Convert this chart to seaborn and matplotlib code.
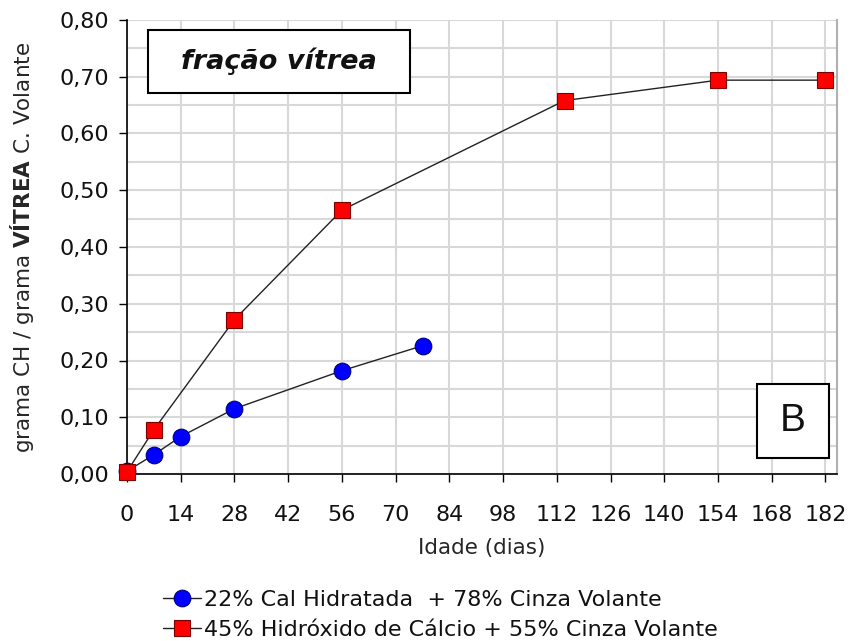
import numpy as np
import pandas as pd
import matplotlib
matplotlib.use("Agg")
import matplotlib.pyplot as plt
import seaborn as sns
from matplotlib.patches import Rectangle
from matplotlib.ticker import MultipleLocator, FuncFormatter

# Data: age (days) vs. grams of CH per gram of glassy fly ash
dias_cal = [0, 7, 14, 28, 56, 77]
ch_cal = [0.005, 0.034, 0.066, 0.115, 0.182, 0.226]

dias_hidrox = [0, 7, 28, 56, 114, 154, 182]
ch_hidrox = [0.004, 0.078, 0.272, 0.465, 0.658, 0.694, 0.694]

rotulo_cal = "22% Cal Hidratada  + 78% Cinza Volante"
rotulo_hidrox = "45% Hidróxido de Cálcio + 55% Cinza Volante"
xticks = list(range(0, 183, 14))

sns.set_theme(style="white")
plt.rcParams["font.family"] = ["DejaVu Sans"]
plt.rcParams["mathtext.fontset"] = "dejavusans"
plt.rcParams["text.color"] = "#111111"

fig = plt.figure(figsize=(8.5, 6.41), dpi=100)
ax = fig.add_axes([127 / 850, 1 - 474 / 641, (837 - 127) / 850, (474 - 20) / 641])

df_cal = pd.DataFrame({"dias": dias_cal, "ch": ch_cal})
df_hid = pd.DataFrame({"dias": dias_hidrox, "ch": ch_hidrox})

sns.lineplot(data=df_cal, x="dias", y="ch", ax=ax, sort=False, color="#222222",
             lw=1.0, marker="o", markersize=12, markerfacecolor="#0000ff",
             markeredgecolor="#00007a", markeredgewidth=0.8, label=rotulo_cal,
             clip_on=False, zorder=4)
sns.lineplot(data=df_hid, x="dias", y="ch", ax=ax, sort=False, color="#222222",
             lw=1.0, marker="s", markersize=11.5, markerfacecolor="#ff0000",
             markeredgecolor="#7a0000", markeredgewidth=0.8, label=rotulo_hidrox,
             clip_on=False, zorder=5)

ax.set_xlim(0, 185)
ax.set_ylim(0, 0.80)
ax.set_xticks(xticks)
ax.yaxis.set_major_locator(MultipleLocator(0.10))
ax.yaxis.set_minor_locator(MultipleLocator(0.05))
ax.yaxis.set_major_formatter(FuncFormatter(lambda v, p: f"{v:.2f}".replace(".", ",")))

ax.grid(True, which="major", axis="both", color="#d8d8d8", lw=1.5)
ax.grid(True, which="minor", axis="y", color="#d8d8d8", lw=1.5)
ax.set_axisbelow(True)

ax.spines["top"].set_visible(False)
ax.spines["right"].set_color("#b0b0b0")
ax.spines["right"].set_linewidth(1.5)
for s in ["left", "bottom"]:
    ax.spines[s].set_color("black")
    ax.spines[s].set_linewidth(1.2)

ax.tick_params(axis="both", which="major", direction="out", length=6, width=1,
               color="black", labelsize=16, bottom=True, left=True,
               labelcolor="#111111")
ax.tick_params(axis="x", which="major", pad=16)
ax.tick_params(axis="y", which="major", pad=7)
ax.tick_params(axis="y", which="minor", length=0)

ax.set_xlabel("Idade (dias)", fontsize=15.5, labelpad=10)
ax.set_ylabel(r"grama CH / grama $\mathbf{VÍTREA}$ C. Volante", fontsize=15.5, labelpad=17)

# Title box
tb = Rectangle(((148 - 127) / 710 * 185, 0.80 - (93 - 20) / 454 * 0.80),
               (410 - 148) / 710 * 185, (93 - 30) / 454 * 0.80,
               facecolor="white", edgecolor="black", lw=1.5, zorder=6)
ax.add_patch(tb)
ax.text(tb.get_x() + tb.get_width() / 2, tb.get_y() + tb.get_height() / 2, "fração vítrea",
        ha="center", va="center", fontsize=19.5, fontweight="bold", fontstyle="italic", zorder=7)

# Panel letter box
bb = Rectangle(((757 - 127) / 710 * 185, (474 - 458) / 454 * 0.80),
               (829 - 757) / 710 * 185, (458 - 384) / 454 * 0.80,
               facecolor="white", edgecolor="black", lw=1.5, zorder=6)
ax.add_patch(bb)
ax.text(bb.get_x() + bb.get_width() / 2, bb.get_y() + bb.get_height() / 2, "B",
        ha="center", va="center", fontsize=28, family="Liberation Sans", zorder=7)

leg = ax.legend(loc="upper left", bbox_to_anchor=(163 / 850, 1 - 590 / 641),
                bbox_transform=fig.transFigure, frameon=False, fontsize=16,
                handlelength=1.7, handletextpad=0.15, labelspacing=0.45,
                borderaxespad=0, borderpad=0)

fig.savefig("out.png", dpi=100)
